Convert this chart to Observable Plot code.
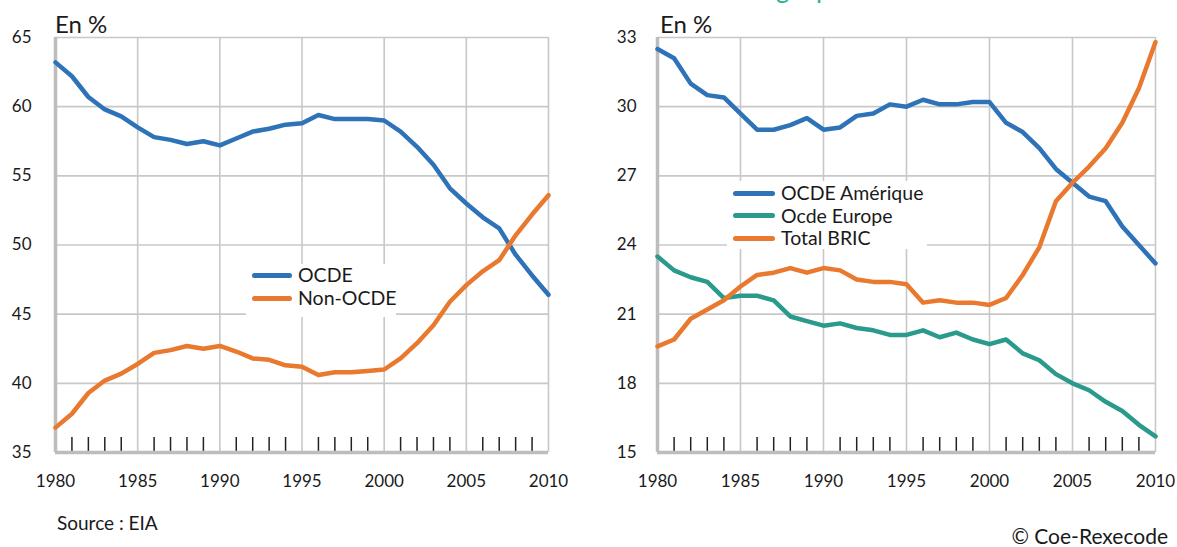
<!DOCTYPE html>
<html><head><meta charset="utf-8">
<script src="https://cdn.jsdelivr.net/npm/d3@7"></script>
<script src="https://cdn.jsdelivr.net/npm/@observablehq/plot@0.6"></script>
<style>
body{margin:0;background:#fff;font-family:Lato,"Noto Sans",sans-serif;color:#1a1a1a;}
#wrap{position:relative;width:1177px;height:547px;overflow:hidden;background:#fff;}
.abs{position:absolute;white-space:nowrap;}
.legend{position:absolute;background:#fff;}
.item{position:absolute;display:flex;align-items:center;font-size:19.5px;line-height:20px;white-space:nowrap;}
.sw{display:inline-block;height:5px;border-radius:3px;margin-right:6px;}
svg{position:absolute;top:0;}
</style></head><body><div id="wrap"></div>
<script>
const years = [1980,1981,1982,1983,1984,1985,1986,1987,1988,1989,1990,1991,1992,1993,1994,1995,1996,1997,1998,1999,2000,2001,2002,2003,2004,2005,2006,2007,2008,2009,2010];
const ocde = [63.2,62.2,60.7,59.8,59.3,58.5,57.8,57.6,57.3,57.5,57.2,57.7,58.2,58.4,58.7,58.8,59.4,59.1,59.1,59.1,59.0,58.2,57.1,55.8,54.1,53.0,52.0,51.2,49.3,47.8,46.4];
const nonOcde = [36.8,37.8,39.3,40.2,40.7,41.4,42.2,42.4,42.7,42.5,42.7,42.3,41.8,41.7,41.3,41.2,40.6,40.8,40.8,40.9,41.0,41.8,42.9,44.2,45.9,47.1,48.1,48.9,50.7,52.2,53.6];
const ocdeAmerique = [32.5,32.1,31.0,30.5,30.4,29.7,29.0,29.0,29.2,29.5,29.0,29.1,29.6,29.7,30.1,30.0,30.3,30.1,30.1,30.2,30.2,29.3,28.9,28.2,27.3,26.7,26.1,25.9,24.8,24.0,23.2];
const ocdeEurope = [23.5,22.9,22.6,22.4,21.7,21.8,21.8,21.6,20.9,20.7,20.5,20.6,20.4,20.3,20.1,20.1,20.3,20.0,20.2,19.9,19.7,19.9,19.3,19.0,18.4,18.0,17.7,17.2,16.8,16.2,15.7];
const totalBric = [19.6,19.9,20.8,21.2,21.6,22.2,22.7,22.8,23.0,22.8,23.0,22.9,22.5,22.4,22.4,22.3,21.5,21.6,21.5,21.5,21.4,21.7,22.7,23.9,25.9,26.7,27.4,28.2,29.3,30.8,32.8];
const xTicks = [1980,1985,1990,1995,2000,2005,2010];
const leftYTicks = [35,40,45,50,55,60,65];
const rightYTicks = [15,18,21,24,27,30,33];
const leftNames = ["OCDE","Non-OCDE"];
const rightNames = ["OCDE Amérique","Ocde Europe","Total BRIC"];
const BLUE = "#2e72b8", ORANGE = "#e8792f", TEAL = "#2a9a8c";
const FONT = "Lato, 'Noto Sans', sans-serif";

const minorYears = years.filter(y => y % 5 !== 0);

function chart({series, colors, yTicks, width, marginLeft, marginRight, yPad}) {
  const H = 500, MT = 37, MB = 48;
  const yDomain = [yTicks[0], yTicks[yTicks.length - 1]];
  const tickLen = (yDomain[1] - yDomain[0]) * 15 / (H - MT - MB);
  const data = series.flatMap(s => years.map((yr, i) => ({year: yr, value: s.values[i], name: s.name})));
  const grid = {stroke: "#c8c8c8", strokeOpacity: 1, strokeWidth: 1.6};
  return Plot.plot({
    width, height: H, marginLeft, marginRight, marginTop: MT, marginBottom: MB,
    style: {fontFamily: FONT, fontSize: "17px", color: "#1a1a1a", background: "transparent", overflow: "visible"},
    x: {domain: [1980, 2010]},
    y: {domain: yDomain},
    color: {domain: series.map(s => s.name), range: colors},
    marks: [
      Plot.gridX(xTicks, grid),
      Plot.gridY(yTicks, grid),
      Plot.axisX(xTicks, {tickSize: 0, tickPadding: 22, tickFormat: d => String(d), label: null, fontSize: 17}),
      Plot.axisY(yTicks, {tickSize: 0, tickPadding: yPad, label: null, fontSize: 17}),
      Plot.ruleX(minorYears, {y1: yDomain[0], y2: yDomain[0] + tickLen, stroke: "#222", strokeWidth: 1.5}),
      Plot.ruleX([1980], {stroke: "#bdbdbd", strokeWidth: 3.5}),
      Plot.ruleY([yDomain[0]], {stroke: "#bdbdbd", strokeWidth: 3.5}),
      Plot.line(data, {x: "year", y: "value", z: "name", stroke: "name", strokeWidth: 4.5, strokeLinejoin: "round", strokeLinecap: "round"})
    ]
  });
}

const wrap = document.getElementById("wrap");

const title = document.createElement("div");
title.className = "abs";
title.style.cssText = "left:0;width:1190px;text-align:center;top:-25px;font-size:26px;line-height:26px;color:#2ab096;";
title.textContent = "Part dans la consommation mondiale d'énergie primaire";
wrap.appendChild(title);

const left = chart({
  series: [{name: leftNames[0], values: ocde}, {name: leftNames[1], values: nonOcde}],
  colors: [BLUE, ORANGE], yTicks: leftYTicks, width: 590, marginLeft: 55, marginRight: 42, yPad: 24
});
left.style.left = "0px";
wrap.appendChild(left);

const right = chart({
  series: [{name: rightNames[0], values: ocdeAmerique}, {name: rightNames[1], values: ocdeEurope}, {name: rightNames[2], values: totalBric}],
  colors: [BLUE, TEAL, ORANGE], yTicks: rightYTicks, width: 587, marginLeft: 67, marginRight: 22, yPad: 21
});
right.style.left = "590px";
wrap.appendChild(right);

function addText(txt, css) {
  const d = document.createElement("div");
  d.className = "abs"; d.style.cssText = css; d.textContent = txt; wrap.appendChild(d);
}
addText("En %", "left:55px;top:11px;font-size:24px;line-height:26px;");
addText("En %", "left:660px;top:11px;font-size:24px;line-height:26px;");
addText("Source : EIA", "left:57px;top:512px;font-size:19px;line-height:22px;");
addText("© Coe-Rexecode", "right:9px;top:525px;font-size:21px;line-height:22px;");

function legend(names, colors, box, rows) {
  const lg = document.createElement("div");
  lg.className = "legend";
  lg.style.cssText = `left:${box[0]}px;top:${box[1]}px;width:${box[2]}px;height:${box[3]}px;`;
  wrap.appendChild(lg);
  names.forEach((n, i) => {
    const it = document.createElement("div");
    it.className = "item";
    it.style.left = rows.x + "px";
    it.style.top = (rows.y0 + i * rows.dy - 10) + "px";
    it.innerHTML = `<span class="sw" style="width:${rows.sw}px;background:${colors[i]}"></span><span>${n}</span>`;
    lg.appendChild(it);
  });
}
legend(leftNames, [BLUE, ORANGE], [246, 264, 150, 53], {x: 6, y0: 11, dy: 23, sw: 40});
legend(rightNames, [BLUE, TEAL, ORANGE], [727, 181, 200, 68], {x: 6, y0: 12, dy: 22.5, sw: 42});
</script></body></html>
